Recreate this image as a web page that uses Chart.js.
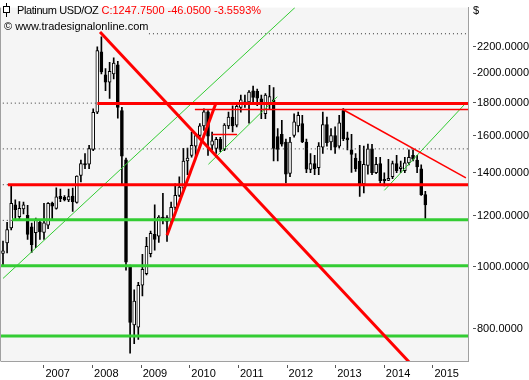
<!DOCTYPE html>
<html>
<head>
<meta charset="utf-8">
<style>
html,body{margin:0;padding:0;background:#ffffff;overflow:hidden;}
canvas{display:block;}
</style>
<script src="https://cdn.jsdelivr.net/npm/chart.js@4.4.1/dist/chart.umd.min.js"></script>
</head>
<body>
<canvas id="chart" width="529" height="380"></canvas>
<script>
// Monthly Platinum candles, index 0 = Mar 2006 ... index 103 = Oct 2014
const opens  = [1048,1088,1148,1248,1196,1230,1202,1153,1129,1172,
                1130,1160,1256,1232,1286,1282,1270,1287,1258,1386,1447,1443,
                1522,1740,2160,1990,1937,1996,2062,1750,1466,999,811,804,
                935,975,1047,1122,1115,1194,1176,1182,1236,1291,1324,1460,
                1490,1540,1600,1656,1742,1545,1528,1578,1522,1656,1710,1661,
                1770,1790,1805,1878,1875,1825,1730,1795,1818,1594,1607,1563,
                1397,1600,1656,1670,1563,1417,1447,1425,1535,1664,1563,1600,
                1540,1750,1587,1520,1475,1460,1345,1437,1525,1400,1447,1367,
                1362,1380,1447,1420,1410,1450,1490,1465,1420,1294];
const highs  = [1095,1172,1340,1270,1262,1260,1245,1169,1190,1180,
                1254,1258,1260,1326,1320,1290,1320,1325,1385,1465,1500,1545,
                1760,2200,2280,2035,2080,2115,2087,1770,1475,1005,920,945,
                1045,1110,1135,1248,1200,1300,1200,1260,1345,1380,1528,1530,
                1620,1610,1670,1760,1750,1620,1590,1590,1670,1740,1780,1790,
                1850,1850,1880,1910,1890,1850,1860,1916,1900,1640,1690,1580,
                1590,1730,1740,1720,1580,1500,1490,1560,1740,1710,1640,1650,
                1720,1762,1620,1607,1500,1545,1540,1552,1550,1480,1480,1400,
                1469,1460,1490,1460,1480,1520,1520,1490,1440,1310];
const lows   = [1005,1050,1140,1183,1185,1208,1102,1052,1070,1102,
                1102,1145,1185,1228,1262,1265,1262,1218,1255,1355,1420,1420,
                1515,1730,1995,1880,1828,1960,1703,1338,987,733,758,770,
                900,970,1035,1060,1090,1165,1094,1170,1225,1285,1318,1390,
                1480,1475,1590,1630,1490,1520,1500,1510,1515,1640,1620,1650,
                1740,1770,1672,1800,1780,1700,1700,1760,1460,1460,1540,1350,
                1380,1590,1620,1560,1400,1400,1390,1390,1500,1540,1520,1500,
                1530,1570,1520,1401,1407,1286,1302,1393,1390,1395,1350,1335,
                1360,1370,1400,1400,1400,1440,1460,1400,1290,1185];
const closes = [1058,1142,1254,1226,1232,1248,1122,1081,1183,1132,
                1170,1254,1242,1284,1276,1270,1285,1262,1383,1447,1440,1527,
                1738,2170,2010,1937,2015,2075,1770,1486,1016,818,883,935,
                990,1075,1126,1102,1194,1188,1192,1236,1291,1330,1460,1475,
                1545,1600,1656,1742,1596,1570,1578,1522,1661,1710,1656,1776,
                1818,1805,1870,1835,1830,1800,1850,1840,1527,1522,1551,1393,
                1563,1680,1720,1563,1418,1447,1420,1540,1664,1560,1600,1535,
                1675,1582,1575,1495,1420,1345,1443,1525,1400,1443,1360,1361,
                1372,1447,1410,1430,1450,1480,1470,1430,1293.80,1247.75];

const years = ['2007','2008','2009','2010','2011','2012','2013','2014','2015'];
const yearTickMonths = [0,12,24,36,48,60,72,84,96];      // months after Jan 2007
const priceTicks = [800,1000,1200,1400,1600,1800,2000,2200];

// drawn lines: pairs of [candle index, price]
const redThick   = [[[23.0,1795],[120,1795]], [[1.2,1341],[120,1341]],
                    [[23.66,2319],[99.3,707]], [[40.0,1119],[51.95,1798]]];
const redThin    = [[[46.8,1757],[120,1757]], [[83.0,1755],[112.9,1374]],
                    [[51.0,1606],[57.1,1606]]];
const greenThick = [[[2.2,1183],[120,1183]], [[-2,1003],[120,1003]], [[-2,779],[120,779]]];
const greenThin  = [[[0,958],[71.2,2532]], [[50.1,1443],[66.9,1839]], [[93.0,1314],[112.9,1798]]];
const dotted     = [[[35.6,2305],[120,2305]], [[-2,1797],[120,1797]], [[-2,1525],[120,1525]],
                    [[-2,1341],[120,1341]], [[-2,1180],[120,1180]]];

const FONT = "'Liberation Sans', Arial, sans-serif";
const n = closes.length;
const prev = closes[n-2], last = closes[n-1];
const titleText = 'Platinum USD/OZ';
const quoteText = 'C:' + last.toFixed(4) + ' ' + (last-prev).toFixed(4) + ' ' + ((last-prev)/prev*100).toFixed(4) + '%';
const copyText = '\u00A9 www.tradesignalonline.com';

function lineSets(list, color, width, order, dash) {
  return list.map(seg => ({
    type:'line', xAxisID:'xi', yAxisID:'y',
    data: seg.map(p => ({x:p[0], y:p[1]})),
    borderColor: color, borderWidth: width, borderDash: dash || [],
    pointRadius: 0, fill: false, tension: 0, order: order, clip: 0
  }));
}

const datasets = [
  { type:'bar', xAxisID:'xi', yAxisID:'y', order: 21, grouped:false,
    data: opens.map((o,i)=>({x:i, y:[lows[i], highs[i]]})),
    backgroundColor:'#000', borderWidth:0, barThickness:1 },
  { type:'bar', xAxisID:'xi', yAxisID:'y', order: 20, grouped:false,
    data: opens.map((o,i)=>({x:i, y:[Math.min(o,closes[i]), Math.max(o,closes[i])]})),
    backgroundColor: opens.map((o,i)=> closes[i] >= o ? '#ffffff' : '#000000'),
    borderColor:'#000', borderWidth:1, borderSkipped:false, barThickness:3, minBarLength:1 },
  ...lineSets(dotted, '#333333', 1, 15, [1,3]),
  ...lineSets(greenThin, '#33cc33', 1, 6),
  ...lineSets(greenThick, '#33cc33', 3, 5),
  ...lineSets(redThin, '#ff0000', 1.5, 3),
  ...lineSets(redThick, '#ff0000', 3, 2)
];

const decor = {
  id:'decor',
  beforeDraw(c){
    const {ctx, chartArea:a} = c;
    ctx.save();
    ctx.fillStyle='#ffffff'; ctx.fillRect(0,0,c.width,c.height);
    ctx.fillStyle='#f5f5f5'; ctx.fillRect(a.left,a.top,a.right-a.left,a.bottom-a.top);
    ctx.restore();
  },
  afterDraw(c){
    const {ctx, chartArea:a} = c;
    ctx.save();
    ctx.strokeStyle='#a0a0a0'; ctx.lineWidth=1;
    ctx.beginPath(); ctx.moveTo(a.left-0.5,a.top); ctx.lineTo(a.left-0.5,a.bottom+0.5); ctx.stroke();
    // little candle icon
    ctx.strokeStyle='#000';
    ctx.beginPath(); ctx.moveTo(6.5,3); ctx.lineTo(6.5,17); ctx.stroke();
    ctx.fillStyle='#fff'; ctx.fillRect(3.5,6.5,6,6); ctx.strokeRect(3.5,6.5,6,6);
    ctx.font = '11px ' + FONT; ctx.textBaseline='alphabetic'; ctx.textAlign='left';
    ctx.fillStyle='#000';
    try { ctx.letterSpacing='-0.4px'; } catch(e) {}
    ctx.fillText(titleText, 17, 14);
    try { ctx.letterSpacing='0px'; } catch(e) {}
    ctx.fillStyle='#ff0000'; ctx.fillText(quoteText, 101.5, 14);
    ctx.fillStyle='#000'; ctx.fillText(copyText, 4, 30);
    ctx.fillStyle='#000'; ctx.fillText('$', 473, 14);
    ctx.restore();
  }
};

new Chart(document.getElementById('chart'), {
  type:'bar',
  data:{ datasets },
  plugins:[decor],
  options:{
    responsive:false, animation:false, devicePixelRatio:1,
    layout:{ padding:{ left:1, top:0, right:0, bottom:0 } },
    plugins:{ legend:{display:false}, tooltip:{enabled:false} },
    scales:{
      xi:{ type:'linear', display:false, min:-0.4878, max:113.41, offset:false, grid:{offset:false} },
      xt:{ type:'linear', position:'bottom', min:-10.612, max:104.64, offset:false,
           afterBuildTicks: s => { s.ticks = yearTickMonths.map(v=>({value:v})); },
           afterFit: s => { s.height = 19; },
           grid:{ drawOnChartArea:false, offset:false, tickLength:7, color:'#555', tickBorderDash:[0,3,4,100] },
           border:{ display:true, color:'#a0a0a0', width:1 },
           ticks:{ align:'start', labelOffset:1.5, padding:-1, autoSkip:false, maxRotation:0, minRotation:0,
                   color:'#000', font:{family:FONT, size:11}, callback:(v,k)=>years[k] } },
      y:{ type:'logarithmic', position:'right', min:712.4, max:2531.8,
          afterBuildTicks: s => { s.ticks = priceTicks.map(v=>({value:v})); },
          afterFit: s => { s.width = 61; },
          grid:{ drawOnChartArea:false, tickLength:8, color:'#555', tickBorderDash:[0,4,4,100] },
          border:{ display:true, color:'#a0a0a0', width:1 },
          ticks:{ padding:1, autoSkip:false, color:'#000', font:{family:FONT, size:11},
                  callback:v => Number(v).toFixed(4) } }
    }
  }
});
</script>
</body>
</html>
